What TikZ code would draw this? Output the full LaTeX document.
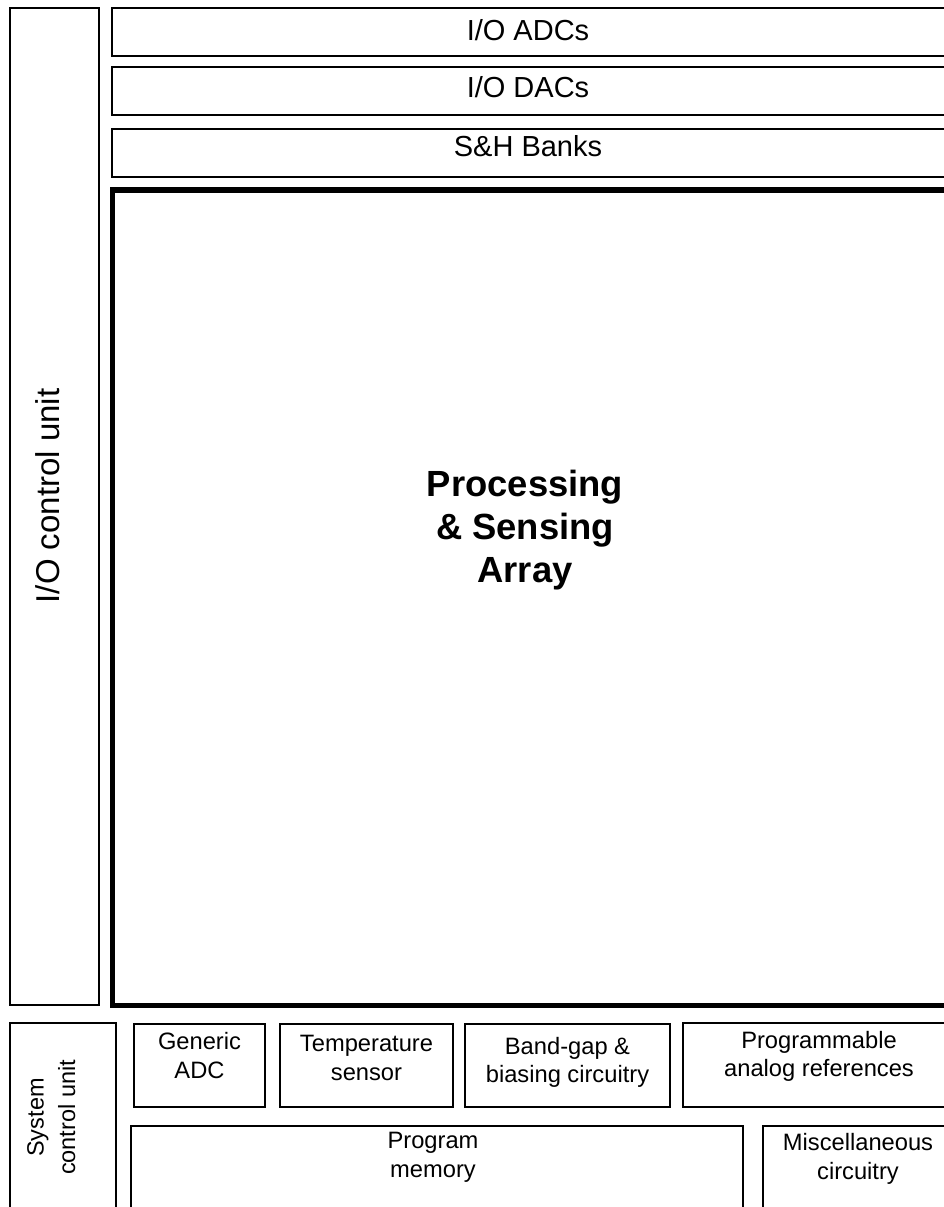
\documentclass[tikz,border=0pt]{standalone}
\usepackage{fontspec}
\setmainfont{Liberation Sans}
\begin{document}
\begin{tikzpicture}[x=1pt,y=-1pt,
  box/.style={draw=black,line width=2pt},
  sbox/.style={draw=black,line width=1.7pt},
  bigbox/.style={draw=black,line width=5.2pt},
  lbl/.style={inner sep=0pt,anchor=base,align=center,font=\fontsize{29}{34}\selectfont},
  slbl/.style={inner sep=0pt,anchor=base,align=center,font=\fontsize{23.7}{28.5}\selectfont},
  plbl/.style={inner sep=0pt,anchor=base,align=center,font=\fontsize{36.4}{43}\selectfont\bfseries}]
\useasboundingbox (0,0) rectangle (944,1207);
\clip (0,0) rectangle (944,1207);
% boxes
\draw[box] (10.3,7.7) rectangle (99,1005);
\draw[box] (112,7.7) rectangle (980,55.7);
\draw[box] (112,66.7) rectangle (980,115);
\draw[box] (112,128.7) rectangle (980,177);
\draw[bigbox] (112.8,190) rectangle (980,1005.5);
\draw[box] (10.3,1023) rectangle (116,1240);
\draw[sbox] (133.7,1024) rectangle (265.3,1106.7);
\draw[sbox] (279.7,1024) rectangle (453.3,1106.7);
\draw[sbox] (464.7,1024) rectangle (670,1106.7);
\draw[sbox] (682.7,1023) rectangle (980,1106.7);
\draw[sbox] (130.7,1126) rectangle (742.7,1240);
\draw[sbox] (763,1126) rectangle (980,1240);
% labels (base anchor = baseline of the last line)
\node[lbl] (adc) at (528,41) {I/O ADCs};
\node[lbl] (dac) at (528,97.5) {I/O DACs};
\node[lbl] (sh) at (528,156) {S\&H Banks};
\node[plbl] (pa) at (525,582) {Processing\\\& Sensing\\Array};
\node[lbl,font=\fontsize{33}{38}\selectfont,rotate=90] (ioc) at (59,496) {I/O control unit};
\node[slbl,font=\fontsize{23.5}{31.5}\selectfont,rotate=90] (sys) at (75,1117.5) {System\\control unit};
\node[slbl] (gadc) at (199.5,1078.3) {Generic\\ADC};
\node[slbl] (temp) at (366.5,1080) {Temperature\\sensor};
\node[slbl] (bg) at (567.5,1082.7) {Band-gap \&\\biasing circuitry};
\node[slbl] (par) at (819,1076.7) {Programmable\\analog references};
\node[slbl] (pm) at (433,1177.3) {Program\\memory};
\node[slbl] (misc) at (858,1179.3) {Miscellaneous\\circuitry};
\end{tikzpicture}
\end{document}
